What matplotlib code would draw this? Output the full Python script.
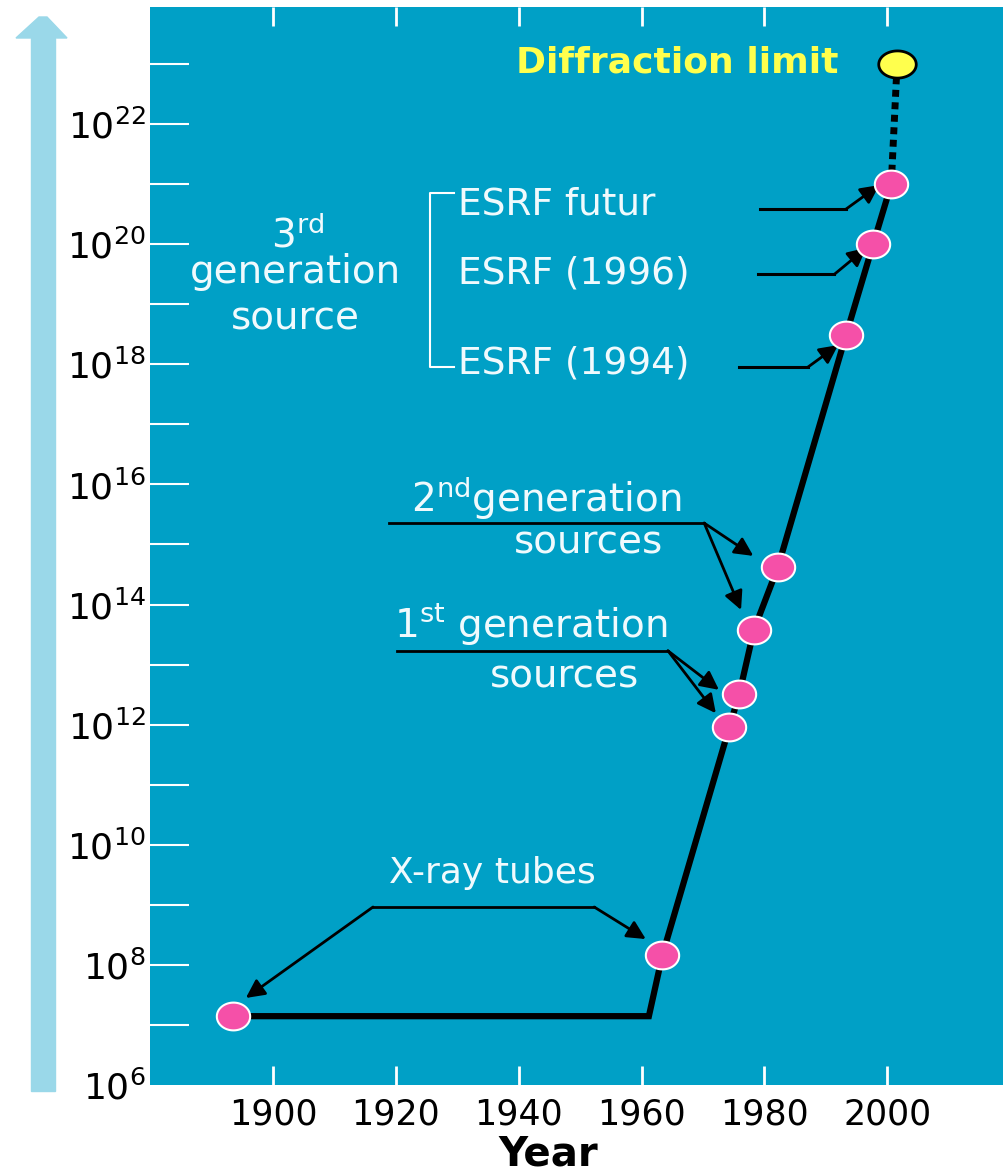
import matplotlib.pyplot as plt
import numpy as np
from matplotlib.path import Path
from matplotlib.patches import Polygon, Rectangle

# Data
years = [1893.5, 1963.4, 1974.3, 1975.9, 1978.3, 1982.2, 1993.3, 1997.7, 2000.65]
brilliance = [1.4e7, 1.46e8, 9.1e11, 3.2e12, 3.8e13, 4.2e14, 3.1e18, 1.0e20, 1.0e21]
# x-ray tubes stay flat until the early 60s
knee_year = 1961.2
knee_brill = 1.4e7
# diffraction limit
limit_year = 2001.6
limit_brill = 1.0e23

year_ticks = [1900, 1920, 1940, 1960, 1980, 2000]
decades = list(range(6, 24))

teal = '#00a0c6'
txt = '#f0fafd'

fig = plt.figure(figsize=(10.04, 11.75), dpi=100)
ax = fig.add_axes([150 / 1004, 1 - 1085 / 1175, 854 / 1004, 1078 / 1175])
ax.set_facecolor(teal)
for s in ax.spines.values():
    s.set_visible(False)

# big light blue arrow on the left
fig.patches.append(Rectangle((31 / 1004, 1 - 1091 / 1175), 24 / 1004, 1053 / 1175,
                             transform=fig.transFigure, color='#9ad8e9', zorder=0))
head = [(16, 38), (67, 38), (47, 17), (39, 17)]
fig.patches.append(Polygon([(x / 1004, 1 - y / 1175) for x, y in head], closed=True,
                           transform=fig.transFigure, color='#9ad8e9', zorder=0))

ax.set_yscale('log')
ax.set_xlim(1880, 2019)
ax.set_ylim(1e6, 10 ** 23.95)

ax.set_xticks(year_ticks)
ax.set_yticks([10.0 ** d for d in decades])
ax.set_yticklabels([r'$10^{%d}$' % d if d % 2 == 0 else '' for d in decades])
ax.minorticks_off()

ax.tick_params(axis='y', direction='in', length=28, width=1.5, color='white',
               labelsize=26, pad=3)
ax.tick_params(axis='x', direction='in', length=14, width=2, color='white',
               top=True, bottom=True, labelsize=25, pad=9)
# no visible tick mark at the very bottom
ax.yaxis.get_major_ticks()[0].tick1line.set_visible(False)

ax.set_xlabel('Year', fontsize=29, fontweight='bold', va='baseline')
ax.xaxis.set_label_coords((548 - 150) / 854, -(1166 - 1085) / 1078)

# main curve
line_x = [years[0], knee_year] + years[1:]
line_y = [brilliance[0], knee_brill] + brilliance[1:]
ax.plot(line_x, line_y, color='black', lw=4.5, solid_joinstyle='miter', zorder=3)
ax.plot([years[-1], limit_year], [brilliance[-1], limit_brill], color='black', lw=5,
        linestyle=(0, (1, 0.8)), dash_capstyle='butt', zorder=3)

t = np.linspace(0, 2 * np.pi, 80)
ell = Path(np.column_stack([1.2 * np.cos(t), np.sin(t)]), closed=True)
ell2 = Path(np.column_stack([1.38 * np.cos(t), np.sin(t)]), closed=True)
ax.plot(years, brilliance, linestyle='none', marker=ell, ms=24, mfc='#f550a8',
        mec='white', mew=1.5, zorder=4)
ax.plot([limit_year], [limit_brill], linestyle='none', marker=ell2, ms=27, mfc='#ffff4d',
        mec='black', mew=2, zorder=4)

# labels
ax.text(1965.8, 10 ** 23.03, 'Diffraction limit', color='#ffff4d', fontsize=26,
        fontweight='bold', ha='center', va='center')

ax.text(1904, 10 ** 19.95, r'3$^{\rm rd}$', color=txt, fontsize=28, ha='center', va='baseline')
ax.text(1903.7, 10 ** 19.35, 'generation', color=txt, fontsize=28, ha='center', va='baseline')
ax.text(1903.7, 10 ** 18.60, 'source', color=txt, fontsize=28, ha='center', va='baseline')

# bracket
ax.plot([1929.5, 1925.6, 1925.6, 1929.5],
        [10 ** 20.85, 10 ** 20.85, 10 ** 17.96, 10 ** 17.96], color='white', lw=1.5)

arrow = dict(arrowstyle='-|>', color='black', lw=2, mutation_scale=28,
             shrinkA=0, shrinkB=0)

esrf = [('ESRF futur', 20.50, 20.586, 1979.3, 1993.3, 1998.7, 20.985),
        ('ESRF (1996)', 19.35, 19.50, 1979.0, 1991.4, 1996.6, 19.94),
        ('ESRF (1994)', 17.855, 17.955, 1975.9, 1987.1, 1992.0, 18.32)]
for label, ty, ly, x0, x1, tx, tipy in esrf:
    ax.text(1930.1, 10 ** ty, label, color=txt, fontsize=27, ha='left', va='baseline')
    ax.plot([x0, x1], [10 ** ly, 10 ** ly], color='black', lw=2.2)
    ax.annotate('', xy=(tx, 10 ** tipy), xytext=(x1, 10 ** ly), arrowprops=arrow)

# 2nd generation
ax.text(1944.5, 10 ** 15.54, r'2$^{\rm nd}$generation', color=txt, fontsize=28,
        ha='center', va='baseline')
ax.text(1951.3, 10 ** 14.875, 'sources', color=txt, fontsize=28, ha='center', va='baseline')
ax.plot([1918.9, 1970.2], [10 ** 15.357, 10 ** 15.357], color='black', lw=2)
for tx, tipy in [(1978.2, 14.81), (1976.2, 13.91)]:
    ax.annotate('', xy=(tx, 10 ** tipy), xytext=(1970.2, 10 ** 15.357), arrowprops=arrow)

# 1st generation
ax.text(1942.0, 10 ** 13.44, r'1$^{\rm st}$ generation', color=txt, fontsize=28,
        ha='center', va='baseline')
ax.text(1947.4, 10 ** 12.63, 'sources', color=txt, fontsize=28, ha='center', va='baseline')
ax.plot([1920.2, 1964.3], [10 ** 13.23, 10 ** 13.23], color='black', lw=2)
for tx, tipy in [(1972.6, 12.58), (1972.1, 12.19)]:
    ax.annotate('', xy=(tx, 10 ** tipy), xytext=(1964.3, 10 ** 13.23), arrowprops=arrow)

# x-ray tubes
ax.text(1935.7, 10 ** 9.36, 'X-ray tubes', color=txt, fontsize=26, ha='center', va='baseline')
ax.plot([1916.3, 1952.3], [10 ** 8.964, 10 ** 8.964], color='black', lw=2)
ax.annotate('', xy=(1960.7, 10 ** 8.43), xytext=(1952.3, 10 ** 8.964), arrowprops=arrow)
ax.annotate('', xy=(1895.6, 10 ** 7.449), xytext=(1916.3, 10 ** 8.964), arrowprops=arrow)

fig.savefig('out.png', dpi=100)
